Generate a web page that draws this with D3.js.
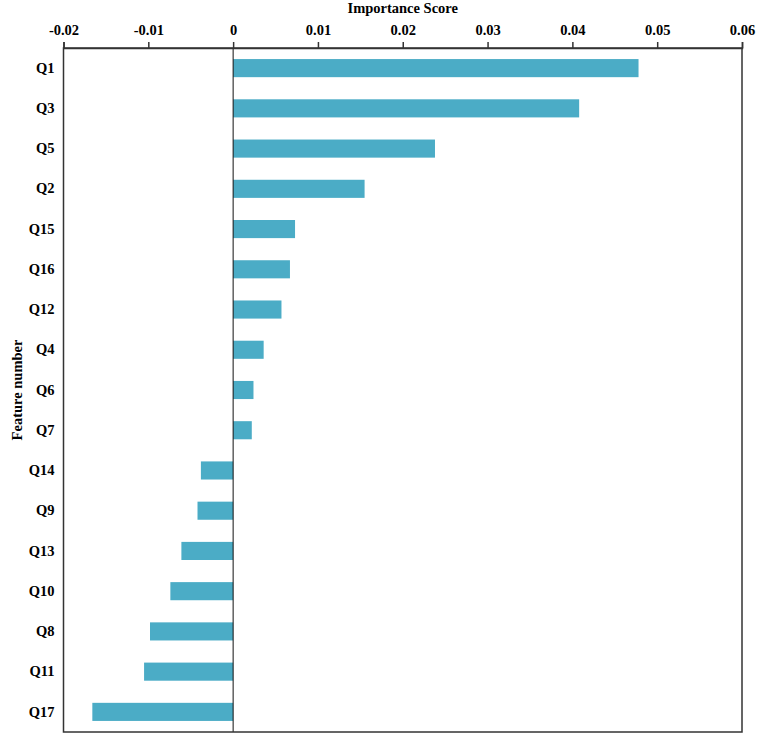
<!DOCTYPE html>
<html>
<head>
<meta charset="utf-8">
<script src="https://cdn.jsdelivr.net/npm/d3@7"></script>
<style>
  body { margin: 0; background: #fff; }
  text { font-family: "Liberation Serif", "Times New Roman", serif; font-weight: bold; fill: #000; }
</style>
</head>
<body>
<div id="chart"></div>
<script>
// feature importance, top to bottom
var features = ['Q1', 'Q3', 'Q5', 'Q2', 'Q15', 'Q16', 'Q12', 'Q4', 'Q6', 'Q7',
                'Q14', 'Q9', 'Q13', 'Q10', 'Q8', 'Q11', 'Q17'];
var scores = [0.0478, 0.0408, 0.0238, 0.0155, 0.0073, 0.0067, 0.0057, 0.0036, 0.0024, 0.0022,
              -0.0038, -0.0042, -0.0061, -0.0074, -0.0098, -0.0105, -0.0166];
var xTicks = [-0.02, -0.01, 0, 0.01, 0.02, 0.03, 0.04, 0.05, 0.06];
var xTickLabels = ['-0.02', '-0.01', '0', '0.01', '0.02', '0.03', '0.04', '0.05', '0.06'];

var width = 760, height = 739;
var margin = { top: 48, right: 18, bottom: 7, left: 63.5 };
var fontSize = '14.5px';

var svg = d3.select('#chart')
  .append('svg')
  .attr('width', width)
  .attr('height', height);

var x = d3.scaleLinear()
  .domain([-0.02, 0.06])
  .range([margin.left, width - margin.right]);

var y = d3.scaleBand()
  .domain(features)
  .range([margin.top, height - margin.bottom])
  .paddingInner(0.55)
  .paddingOuter(0.275);

var data = features.map(function(f, i) { return { name: f, value: scores[i] }; });

// bars
svg.append('g')
  .selectAll('rect')
  .data(data)
  .enter().append('rect')
  .attr('x', function(d) { return x(Math.min(0, d.value)); })
  .attr('y', function(d) { return y(d.name); })
  .attr('width', function(d) { return Math.abs(x(d.value) - x(0)); })
  .attr('height', y.bandwidth())
  .attr('fill', '#4bacc6');

// zero line
svg.append('line')
  .attr('x1', x(0)).attr('x2', x(0))
  .attr('y1', margin.top).attr('y2', height - margin.bottom)
  .attr('stroke', '#111')
  .attr('stroke-width', 1);

// frame
svg.append('rect')
  .attr('x', margin.left)
  .attr('y', margin.top)
  .attr('width', x.range()[1] - margin.left)
  .attr('height', height - margin.bottom - margin.top)
  .attr('fill', 'none')
  .attr('stroke', '#333')
  .attr('stroke-width', 1.5);

// top axis
var xAxis = svg.append('g')
  .attr('transform', 'translate(0,' + margin.top + ')')
  .call(d3.axisTop(x)
    .tickValues(xTicks)
    .tickFormat(function(d, i) { return xTickLabels[i]; })
    .tickSize(6)
    .tickPadding(7));
xAxis.select('.domain').attr('stroke', '#333').attr('stroke-width', 1.5);
xAxis.selectAll('.tick line').attr('stroke', '#333').attr('stroke-width', 1.5);
xAxis.selectAll('.tick text').style('font-size', fontSize);

// y labels
var yAxis = svg.append('g')
  .attr('transform', 'translate(' + margin.left + ',0)')
  .call(d3.axisLeft(y).tickSize(0).tickPadding(9));
yAxis.select('.domain').remove();
yAxis.selectAll('.tick text').style('font-size', fontSize);

// titles
svg.append('text')
  .attr('x', (margin.left + x.range()[1]) / 2)
  .attr('y', 13)
  .attr('text-anchor', 'middle')
  .style('font-size', fontSize)
  .text('Importance Score');

svg.append('text')
  .attr('transform', 'translate(22,' + (margin.top + height - margin.bottom) / 2 + ') rotate(-90)')
  .attr('text-anchor', 'middle')
  .style('font-size', fontSize)
  .text('Feature number');
</script>
</body>
</html>
